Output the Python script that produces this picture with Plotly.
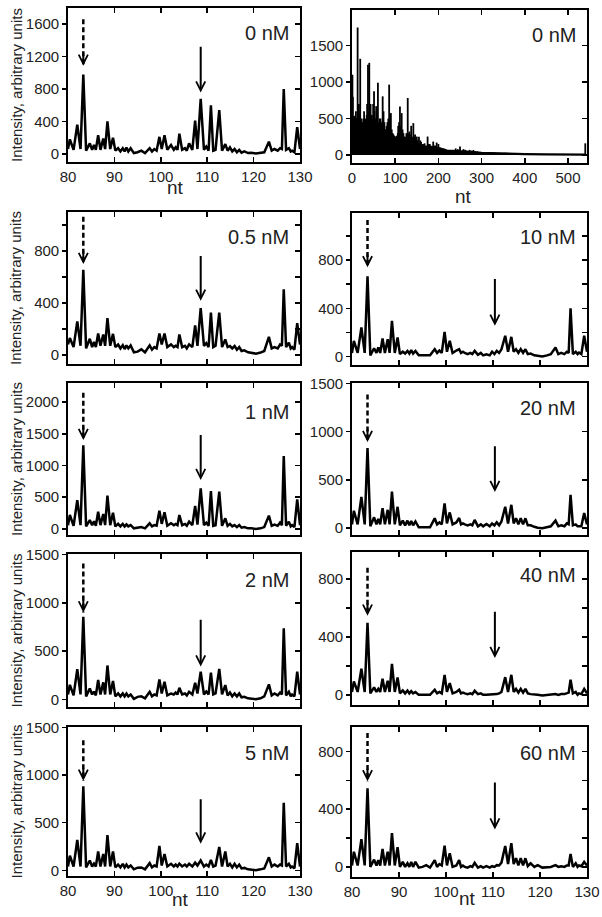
import plotly.graph_objects as go

# ---------------- data ----------------
# nucleotide positions shared by the zoomed traces (80-130 nt)
NT = [80.0, 80.4, 81.2, 82.0, 82.7, 83.3, 83.9, 84.7, 85.2, 85.6,
      86.0, 86.5, 87.0, 87.6, 88.0, 88.5, 89.1, 89.7, 90.2, 90.8,
      91.3, 91.8, 92.2, 92.6, 93.0, 93.5, 94.2, 95.0, 95.8, 96.6,
      97.6, 98.1, 98.6, 99.1, 99.7, 100.2, 100.8, 101.4, 102.2, 102.8,
      103.2, 103.6, 104.0, 104.6, 105.2, 105.6, 106.1, 106.8, 107.4, 107.9,
      108.6, 109.3, 109.8, 110.3, 110.8, 111.3, 111.8, 112.6, 113.2, 113.9,
      114.4, 114.9, 115.4, 115.9, 116.4, 116.9, 117.4, 118.0, 118.8, 119.5,
      120.5, 121.5, 122.3, 123.3, 123.9, 124.5, 125.2, 125.7, 126.1, 126.5,
      127.0, 127.6, 128.0, 128.3, 128.8, 129.4, 130.0]

I_0NM = [60, 180, 50, 360, 60, 980, 40, 130, 50, 110,
         50, 230, 50, 190, 60, 400, 60, 200, 40, 70,
         30, 70, 30, 80, 30, 70, 10, 20, 40, 10,
         70, 30, 60, 40, 210, 60, 230, 50, 110, 50,
         80, 50, 250, 50, 70, 40, 130, 50, 410, 60,
         680, 50, 90, 40, 600, 40, 50, 540, 40, 120,
         40, 80, 30, 60, 20, 50, 15, 30, 10, 15,
         5, 15, 20, 150, 40, 60, 40, 70, 60, 800,
         50, 70, 30, 40, 20, 330, 60]

I_05NM = [80, 130, 60, 258, 70, 655, 50, 124, 60, 100,
          60, 165, 70, 157, 70, 283, 70, 162, 60, 80,
          50, 75, 45, 73, 50, 73, 20, 25, 43, 20,
          73, 40, 60, 50, 165, 80, 165, 60, 81, 60,
          70, 60, 157, 60, 70, 50, 81, 60, 228, 70,
          360, 70, 90, 60, 326, 60, 70, 326, 60, 119,
          60, 68, 50, 68, 40, 60, 30, 35, 20, 18,
          10, 18, 30, 139, 50, 60, 50, 80, 70, 505,
          60, 94, 50, 60, 40, 245, 80]

I_1NM = [60, 220, 50, 455, 60, 1320, 40, 140, 60, 120,
         50, 272, 60, 236, 60, 524, 60, 257, 40, 80,
         40, 80, 40, 73, 40, 60, 10, 21, 30, 10,
         89, 40, 60, 50, 288, 80, 262, 50, 89, 60,
         80, 60, 220, 60, 80, 50, 115, 60, 362, 70,
         640, 60, 100, 50, 597, 50, 60, 587, 50, 168,
         50, 80, 40, 63, 30, 63, 20, 30, 10, 10,
         0, 10, 30, 210, 50, 70, 50, 100, 60, 1148,
         50, 115, 40, 60, 30, 466, 60]

I_2NM = [50, 150, 40, 311, 50, 854, 30, 112, 50, 80,
         40, 200, 50, 175, 50, 350, 50, 189, 30, 60,
         30, 60, 30, 60, 30, 50, 5, 25, 30, 10,
         77, 30, 50, 40, 206, 60, 182, 40, 60, 50,
         70, 50, 119, 50, 60, 40, 77, 50, 171, 60,
         287, 50, 80, 50, 277, 50, 60, 315, 50, 147,
         40, 70, 30, 60, 30, 60, 20, 25, 10, 5,
         0, 10, 30, 154, 40, 60, 40, 70, 50, 735,
         40, 77, 30, 50, 30, 287, 50]

I_5NM = [40, 154, 40, 318, 40, 882, 30, 103, 40, 70,
         40, 198, 40, 171, 40, 369, 40, 198, 30, 60,
         30, 68, 30, 60, 30, 50, 10, 27, 30, 10,
         75, 30, 50, 40, 256, 50, 171, 40, 68, 40,
         60, 40, 70, 40, 60, 40, 68, 40, 80, 50,
         103, 40, 60, 40, 109, 40, 50, 246, 40, 198,
         40, 68, 30, 68, 30, 60, 20, 25, 10, 5,
         0, 10, 20, 137, 40, 60, 40, 60, 50, 708,
         40, 68, 30, 40, 20, 284, 40]

I_10NM = [30, 130, 30, 241, 30, 665, 10, 69, 30, 75,
          30, 150, 30, 144, 30, 296, 30, 158, 20, 40,
          25, 47, 25, 53, 25, 47, 10, 10, 14, 10,
          61, 30, 50, 30, 205, 40, 130, 30, 50, 61,
          30, 40, 30, 20, 30, 20, 47, 15, 30, 10,
          19, 10, 40, 20, 47, 30, 60, 172, 40, 163,
          40, 61, 30, 61, 30, 61, 20, 25, 10, 5,
          0, 10, 20, 75, 20, 30, 20, 40, 30, 399,
          20, 40, 20, 33, 20, 172, 40]

I_20NM = [40, 181, 40, 325, 40, 831, 20, 113, 40, 96,
          40, 209, 40, 191, 40, 380, 40, 222, 30, 79,
          30, 79, 30, 75, 30, 70, 10, 10, 17, 10,
          103, 40, 60, 40, 257, 50, 164, 40, 60, 106,
          40, 50, 40, 30, 40, 30, 86, 20, 40, 20,
          44, 20, 50, 30, 62, 30, 70, 222, 50, 243,
          50, 103, 40, 103, 40, 103, 30, 30, 15, 5,
          0, 10, 20, 79, 20, 30, 20, 50, 40, 345,
          30, 40, 20, 20, 20, 157, 40]

I_40NM = [20, 92, 20, 180, 20, 496, 10, 51, 20, 41,
          20, 111, 20, 97, 20, 214, 20, 120, 10, 30,
          10, 30, 10, 25, 10, 20, 0, 0, 5, 0,
          35, 10, 20, 10, 138, 20, 81, 10, 20, 35,
          10, 15, 10, 5, 10, 5, 28, 5, 10, 0,
          0, 0, 5, 0, 5, 10, 20, 122, 20, 138,
          20, 41, 15, 41, 15, 41, 10, 5, 0, 0,
          -5, 0, 0, 5, 0, 5, 5, 10, 15, 104,
          10, 20, 0, 10, 5, 41, 10]

I_60NM = [10, 105, 10, 193, 10, 545, 0, 50, 10, 47,
          10, 125, 10, 105, 10, 235, 10, 137, 0, 35,
          0, 25, 0, 35, 0, 35, -5, 0, 12, -5,
          47, 0, 20, 10, 148, 10, 95, 0, 10, 47,
          0, 10, 0, -5, 5, 0, 28, -5, 5, -5,
          5, -5, 5, 0, 12, 10, 30, 145, 20, 165,
          20, 60, 10, 60, 10, 60, 5, 25, 0, 12,
          -5, 0, 0, 12, 0, 5, 0, 10, 10, 90,
          0, 25, 0, 10, 5, 35, 10]

# full-length 0 nM trace (0-540 nt): tall spikes, dense smaller spikes, body envelope
TALL_NT = [1, 2, 5, 9, 13, 16, 19, 22, 26, 30, 37, 40, 43, 46, 51, 54, 56, 60, 64, 67,
           71, 73, 78, 82, 86, 90, 94, 98, 104, 107, 111, 115, 119, 124, 129, 133, 137, 142, 146, 150,
           155, 160, 165, 170, 175, 180, 184, 188, 192, 196, 200, 205, 212, 220, 230, 240, 250, 258, 265, 272,
           281, 290, 300, 310, 320, 330, 345, 360, 380, 400, 420, 440, 460, 480, 500, 520, 540]
TALL_I = [1100, 800, 530, 600, 1750, 700, 1320, 450, 500, 420, 1240, 1265, 700, 550, 875, 500, 670, 990, 500, 430,
          805, 600, 350, 450, 966, 575, 300, 250, 207, 400, 667, 575, 300, 250, 782, 322, 400, 437, 280, 253,
          250, 180, 150, 120, 253, 150, 120, 184, 130, 170, 150, 100, 90, 70, 60, 90, 115, 80, 60, 70,
          69, 50, 40, 40, 30, 35, 25, 25, 20, 15, 15, 10, 10, 5, 5, 5, 160]
DENSE_NT = [3, 7, 11, 15, 18, 21, 24, 28, 32, 34, 35, 39, 42, 45, 48, 49, 52, 58, 62, 66,
            69, 75, 80, 84, 88, 92, 96, 100, 102, 106, 109, 113, 117, 121, 126, 131, 135, 139, 144, 148,
            152, 158, 162, 168, 172, 178, 182, 186, 190, 194, 198, 202, 208, 215, 225, 235, 245, 255, 262, 268,
            276, 285, 295, 305, 315, 325, 340, 355, 370, 390, 410, 430, 450, 470, 490, 510, 530]
DENSE_I = [400, 450, 500, 600, 550, 500, 450, 600, 500, 550, 700, 600, 500, 450, 500, 700, 600, 550, 450, 500,
           450, 450, 400, 500, 400, 350, 280, 250, 220, 300, 450, 400, 350, 250, 300, 300, 280, 250, 250, 220,
           200, 200, 150, 160, 130, 150, 130, 120, 110, 120, 110, 100, 80, 70, 60, 70, 80, 60, 70, 50,
           60, 50, 40, 35, 30, 30, 25, 30, 20, 15, 15, 10, 10, 10, 5, 5, 5]
MASS_NT = [0, 5, 10, 20, 30, 40, 50, 60, 70, 80, 90, 100, 110, 120, 130, 140, 150, 160, 180, 200,
           220, 250, 280, 300, 350, 400, 450, 500, 540]
MASS_I = [500, 520, 480, 430, 420, 430, 400, 400, 360, 330, 300, 230, 280, 240, 210, 170, 150, 120, 100, 95,
          60, 55, 40, 30, 18, 12, 8, 6, 6]

# arrow positions (nt, intensity) per panel in reading order
DASH_NT = 83.3
SOLID_NT_LEFT = 108.6
SOLID_NT_RIGHT = 110.4
DASH_TOP = [1660, None, 1063, 1133, 2148, 1385, 1407, 876, 1365, 929]
DASH_TIP = [1086, None, 700, 740, 1400, 893, 900, 546, 940, 593]
SOLID_TOP = [1340, None, 772, 656, 1504, 865, 840, 583, 763, 595]
SOLID_TIP = [758, None, 417, 255, 770, 376, 340, 254, 280, 259]

LABELS = ["0 nM", "0 nM", "0.5 nM", "10 nM", "1 nM", "20 nM", "2 nM", "40 nM", "5 nM", "60 nM"]
SERIES = [I_0NM, None, I_05NM, I_10NM, I_1NM, I_20NM, I_2NM, I_40NM, I_5NM, I_60NM]
for s in SERIES:
    if s is not None:
        assert len(s) == len(NT), len(s)
assert len(TALL_NT) == len(TALL_I) and len(MASS_NT) == len(MASS_I) and len(DENSE_NT) == len(DENSE_I)

# ---------------- layout ----------------
W, H = 602, 917
FONT = "Liberation Sans, Arial, sans-serif"
TXT = "#222"
COLX = {"L": (68, 300), "R": (352, 587)}
BOX = [("L", 8, 162), ("R", 10, 163), ("L", 212, 364), ("R", 213, 365),
       ("L", 383, 535), ("R", 383, 535), ("L", 554, 707), ("R", 552, 705),
       ("L", 727, 876), ("R", 727, 877)]
YRANGE = [[-100, 1800], [-110, 1990], [-70, 1100], [-70, 1190], [-95, 2300],
          [-70, 1505], [-80, 1505], [-70, 985], [-60, 1505], [-70, 970]]
YDTICK = [400, 500, 400, 400, 500, 500, 500, 400, 500, 400]
YMINOR = [None, None, 200, 200, None, None, None, 200, None, 200]
XLABELS = [True, True, False, False, False, False, False, False, True, True]
LABEL_Y = [33, 35, 237, 237, 412, 408, 580, 575, 753, 753]

fig = go.Figure()
layout = dict(width=W, height=H, margin=dict(l=0, r=0, t=0, b=0, pad=0), autosize=False,
              paper_bgcolor="white", plot_bgcolor="white", showlegend=False,
              template="none",
              font=dict(family=FONT, color=TXT))
annotations = []
shapes = []


def px(x):
    return x / W


def py(y):
    return 1 - y / H


for i in range(10):
    n = i + 1
    m = i + 11
    col, top, bot = BOX[i]
    x0, x1 = COLX[col]
    xa = "x" if n == 1 else f"x{n}"
    ya = "y" if n == 1 else f"y{n}"
    yo = f"y{m}"
    xkey = "xaxis" if n == 1 else f"xaxis{n}"
    ykey = "yaxis" if n == 1 else f"yaxis{n}"
    full = (i == 1)
    xr = [0, 544] if full else [80, 130]
    layout[xkey] = dict(domain=[px(x0), px(x1)], anchor=ya, range=xr, automargin=False,
                        tick0=0, dtick=100 if full else 10,
                        ticks="inside", ticklen=5, tickwidth=1.5, tickcolor="black",
                        showline=True, linewidth=1.8, linecolor="black", mirror="ticks",
                        showticklabels=XLABELS[i], tickfont=dict(size=15, family=FONT, color=TXT),
                        showgrid=False, zeroline=False, fixedrange=True)
    ymin = dict(dtick=YMINOR[i], tick0=0, ticks="outside", ticklen=4, tickwidth=1.5,
                tickcolor="black", showgrid=False) if YMINOR[i] else None
    ydict = dict(domain=[py(bot), py(top)], anchor=xa, range=YRANGE[i], automargin=False,
                 tick0=0, dtick=YDTICK[i], ticks="outside", ticklen=4, tickwidth=1.5,
                 tickcolor="black", showline=True, linewidth=1.8, linecolor="black",
                 mirror=True, tickfont=dict(size=15, family=FONT, color=TXT),
                 showgrid=False, zeroline=False, fixedrange=True)
    if ymin:
        ydict["minor"] = ymin
    layout[ykey] = ydict
    odict = dict(overlaying=ya, anchor=xa, side="right", range=YRANGE[i], automargin=False,
                 tick0=0, dtick=YDTICK[i], ticks="inside", ticklen=5, tickwidth=1.5,
                 tickcolor="black", showticklabels=False, showline=False,
                 showgrid=False, zeroline=False, fixedrange=True)
    if ymin:
        odict["minor"] = dict(dtick=YMINOR[i], tick0=0, ticks="inside", ticklen=5,
                              tickwidth=1.5, tickcolor="black", showgrid=False)
    layout[f"yaxis{m}"] = odict
    fig.add_trace(go.Scatter(x=[None], y=[None], xaxis=xa, yaxis=yo,
                             showlegend=False, hoverinfo="skip"))

    if full:
        fig.add_trace(go.Scatter(x=MASS_NT, y=MASS_I, xaxis=xa, yaxis=ya, mode="lines",
                                 fill="tozeroy", fillcolor="black",
                                 line=dict(color="black", width=2.2), hoverinfo="skip"))
        sx, sy = [], []
        for xv, hv in list(zip(TALL_NT, TALL_I)) + list(zip(DENSE_NT, DENSE_I)):
            sx += [xv, xv, None]
            sy += [0, hv, None]
        fig.add_trace(go.Scatter(x=sx, y=sy, xaxis=xa, yaxis=ya, mode="lines",
                                 line=dict(color="black", width=1.8), hoverinfo="skip"))
    else:
        fig.add_trace(go.Scatter(x=NT, y=SERIES[i], xaxis=xa, yaxis=ya, mode="lines",
                                 line=dict(color="black", width=2.5), hoverinfo="skip"))
        # dashed arrow
        shapes.append(dict(type="line", xref=xa, yref=ya, x0=DASH_NT, x1=DASH_NT,
                           y0=DASH_TOP[i], y1=DASH_TIP[i],
                           line=dict(color="black", width=2.5, dash="5px,3px")))
        annotations.append(dict(x=DASH_NT, y=DASH_TIP[i], xref=xa, yref=ya, ax=0, ay=-14,
                                text="", showarrow=True, arrowhead=5, arrowsize=0.9,
                                arrowwidth=2, arrowcolor="black", standoff=0))
        sxn = SOLID_NT_LEFT if col == "L" else SOLID_NT_RIGHT
        annotations.append(dict(x=sxn, y=SOLID_TIP[i], xref=xa, yref=ya,
                                ax=sxn, ay=SOLID_TOP[i], axref=xa, ayref=ya,
                                text="", showarrow=True, arrowhead=5, arrowsize=0.9,
                                arrowwidth=2, arrowcolor="black", standoff=0))
    # concentration label
    annotations.append(dict(x=px(x1 - 9), y=py(LABEL_Y[i]), xref="paper", yref="paper",
                            text=LABELS[i], showarrow=False, xanchor="right", yanchor="middle",
                            font=dict(size=20, family=FONT, color=TXT)))
    if col == "L":
        annotations.append(dict(x=px(16), y=py((top + bot) / 2), xref="paper", yref="paper",
                                text="Intensity, arbitrary units", textangle=-90,
                                showarrow=False, xanchor="center", yanchor="middle",
                                font=dict(size=15, family=FONT, color=TXT)))

for (xx, yy) in [(175, 187), (463, 196), (180, 899), (467, 898)]:
    annotations.append(dict(x=px(xx), y=py(yy), xref="paper", yref="paper", text="nt",
                            showarrow=False, xanchor="center", yanchor="middle",
                            font=dict(size=19, family=FONT, color=TXT)))

layout["annotations"] = annotations
layout["shapes"] = shapes
fig.update_layout(**layout)
fig.write_html("out.html", config={"displayModeBar": False, "staticPlot": True},
               post_script="document.body.style.margin='0';document.body.style.overflow='hidden';")
